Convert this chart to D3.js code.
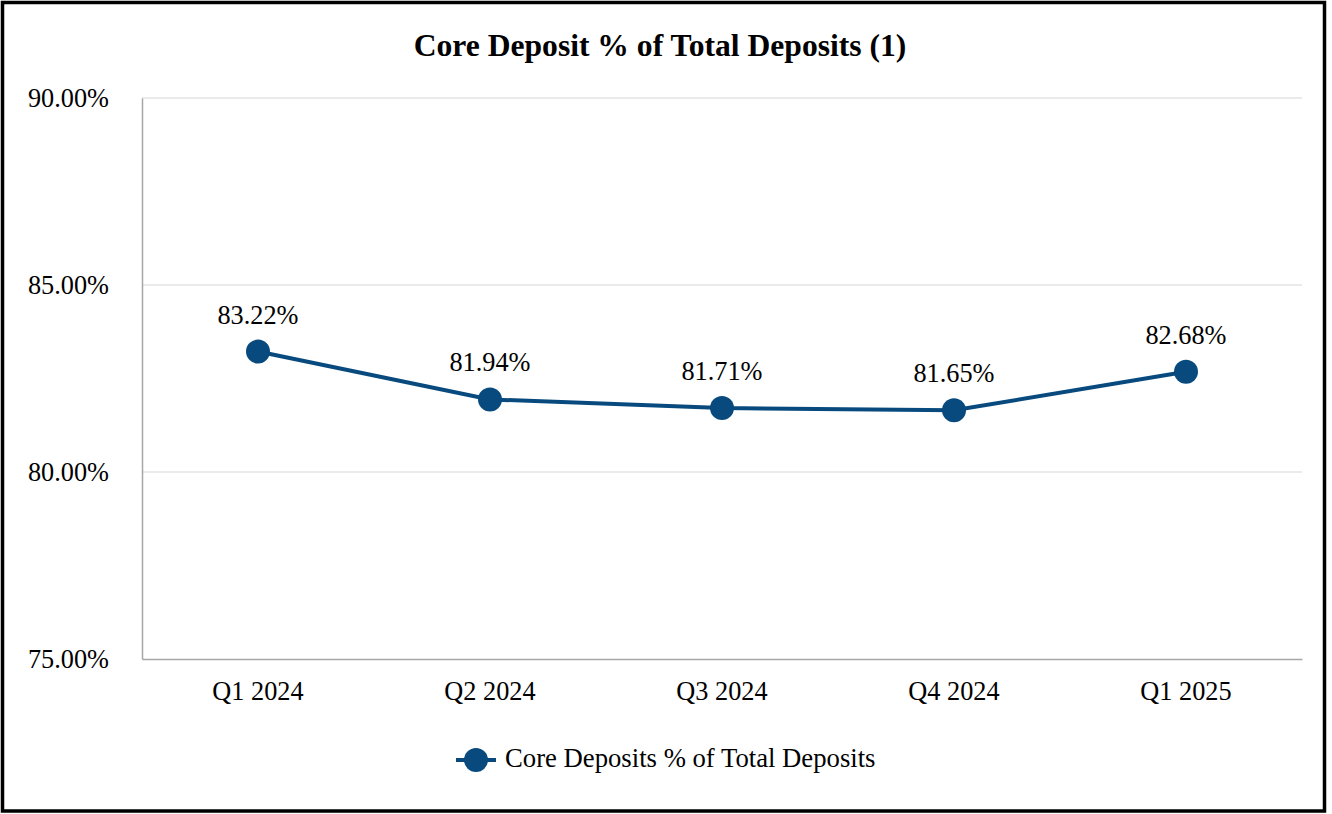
<!DOCTYPE html>
<html>
<head>
<meta charset="utf-8">
<script src="https://cdn.jsdelivr.net/npm/d3@7"></script>
<style>
  body { margin: 0; background: #fff; }
  svg, svg text { font-family: "Liberation Serif", "Times New Roman", serif !important; }
</style>
</head>
<body>
<script>
// chart data
var quarters = ["Q1 2024", "Q2 2024", "Q3 2024", "Q4 2024", "Q1 2025"];
var coreDepositPct = [83.22, 81.94, 81.71, 81.65, 82.68];
var yTicks = [75, 80, 85, 90];
var seriesName = "Core Deposits % of Total Deposits";
var chartTitle = "Core Deposit % of Total Deposits (1)";

var W = 1332, H = 814;
var margin = {top: 98, right: 30, bottom: 155, left: 142};
var navy = "#084a7e";

var svg = d3.select("body").append("svg")
  .attr("width", W)
  .attr("height", H);

// outer frame
svg.append("rect")
  .attr("x", 2.5).attr("y", 2.5)
  .attr("width", 1322).attr("height", 808.5)
  .attr("fill", "#fff")
  .attr("stroke", "#000")
  .attr("stroke-width", 3.5);

svg.append("text")
  .attr("x", 660).attr("y", 56)
  .attr("text-anchor", "middle")
  .attr("font-weight", "bold")
  .attr("font-size", 31.6)
  .text(chartTitle);

var x = d3.scaleBand()
  .domain(quarters)
  .range([margin.left, W - margin.right]);

var y = d3.scaleLinear()
  .domain([75, 90])
  .range([H - margin.bottom, margin.top]);

// gridlines
svg.append("g")
  .selectAll("line")
  .data(yTicks.filter(d => d > 75))
  .join("line")
  .attr("x1", margin.left).attr("x2", W - margin.right)
  .attr("y1", d => y(d)).attr("y2", d => y(d))
  .attr("stroke", "#e3e3e3")
  .attr("stroke-width", 1.5);

// y axis
var yAxis = svg.append("g")
  .attr("transform", "translate(" + margin.left + ",0)")
  .call(d3.axisLeft(y).tickValues(yTicks).tickSize(0).tickPadding(33)
    .tickFormat(d => d.toFixed(2) + "%"));
yAxis.select(".domain").attr("stroke", "#a6a6a6").attr("stroke-width", 1.5);
yAxis.selectAll("text")
  .attr("font-size", 26.3)
  .attr("fill", "#000")
  .attr("dy", "0.33em");

// x axis
var xAxis = svg.append("g")
  .attr("transform", "translate(0," + y(75) + ")")
  .call(d3.axisBottom(x).tickSize(0).tickPadding(22));
xAxis.select(".domain").attr("stroke", "#a6a6a6").attr("stroke-width", 1.5);
xAxis.selectAll("text")
  .attr("font-size", 26.3)
  .attr("fill", "#000");

var cx = (d, i) => x(quarters[i]) + x.bandwidth() / 2;

var line = d3.line()
  .x((d, i) => cx(d, i))
  .y(d => y(d));

svg.append("path")
  .datum(coreDepositPct)
  .attr("d", line)
  .attr("fill", "none")
  .attr("stroke", navy)
  .attr("stroke-width", 4);

svg.append("g")
  .selectAll("circle")
  .data(coreDepositPct)
  .join("circle")
  .attr("cx", cx)
  .attr("cy", d => y(d))
  .attr("r", 12)
  .attr("fill", navy);

svg.append("g")
  .selectAll("text")
  .data(coreDepositPct)
  .join("text")
  .attr("x", cx)
  .attr("y", d => y(d) - 28)
  .attr("text-anchor", "middle")
  .attr("font-size", 26.3)
  .text(d => d.toFixed(2) + "%");

// legend
var lg = svg.append("g").attr("transform", "translate(456,760)");
lg.append("line")
  .attr("x1", 0).attr("x2", 40)
  .attr("stroke", navy).attr("stroke-width", 4);
lg.append("circle")
  .attr("cx", 20).attr("r", 12)
  .attr("fill", navy);
lg.append("text")
  .attr("x", 49).attr("y", 7)
  .attr("font-size", 26.7)
  .text(seriesName);
</script>
</body>
</html>
